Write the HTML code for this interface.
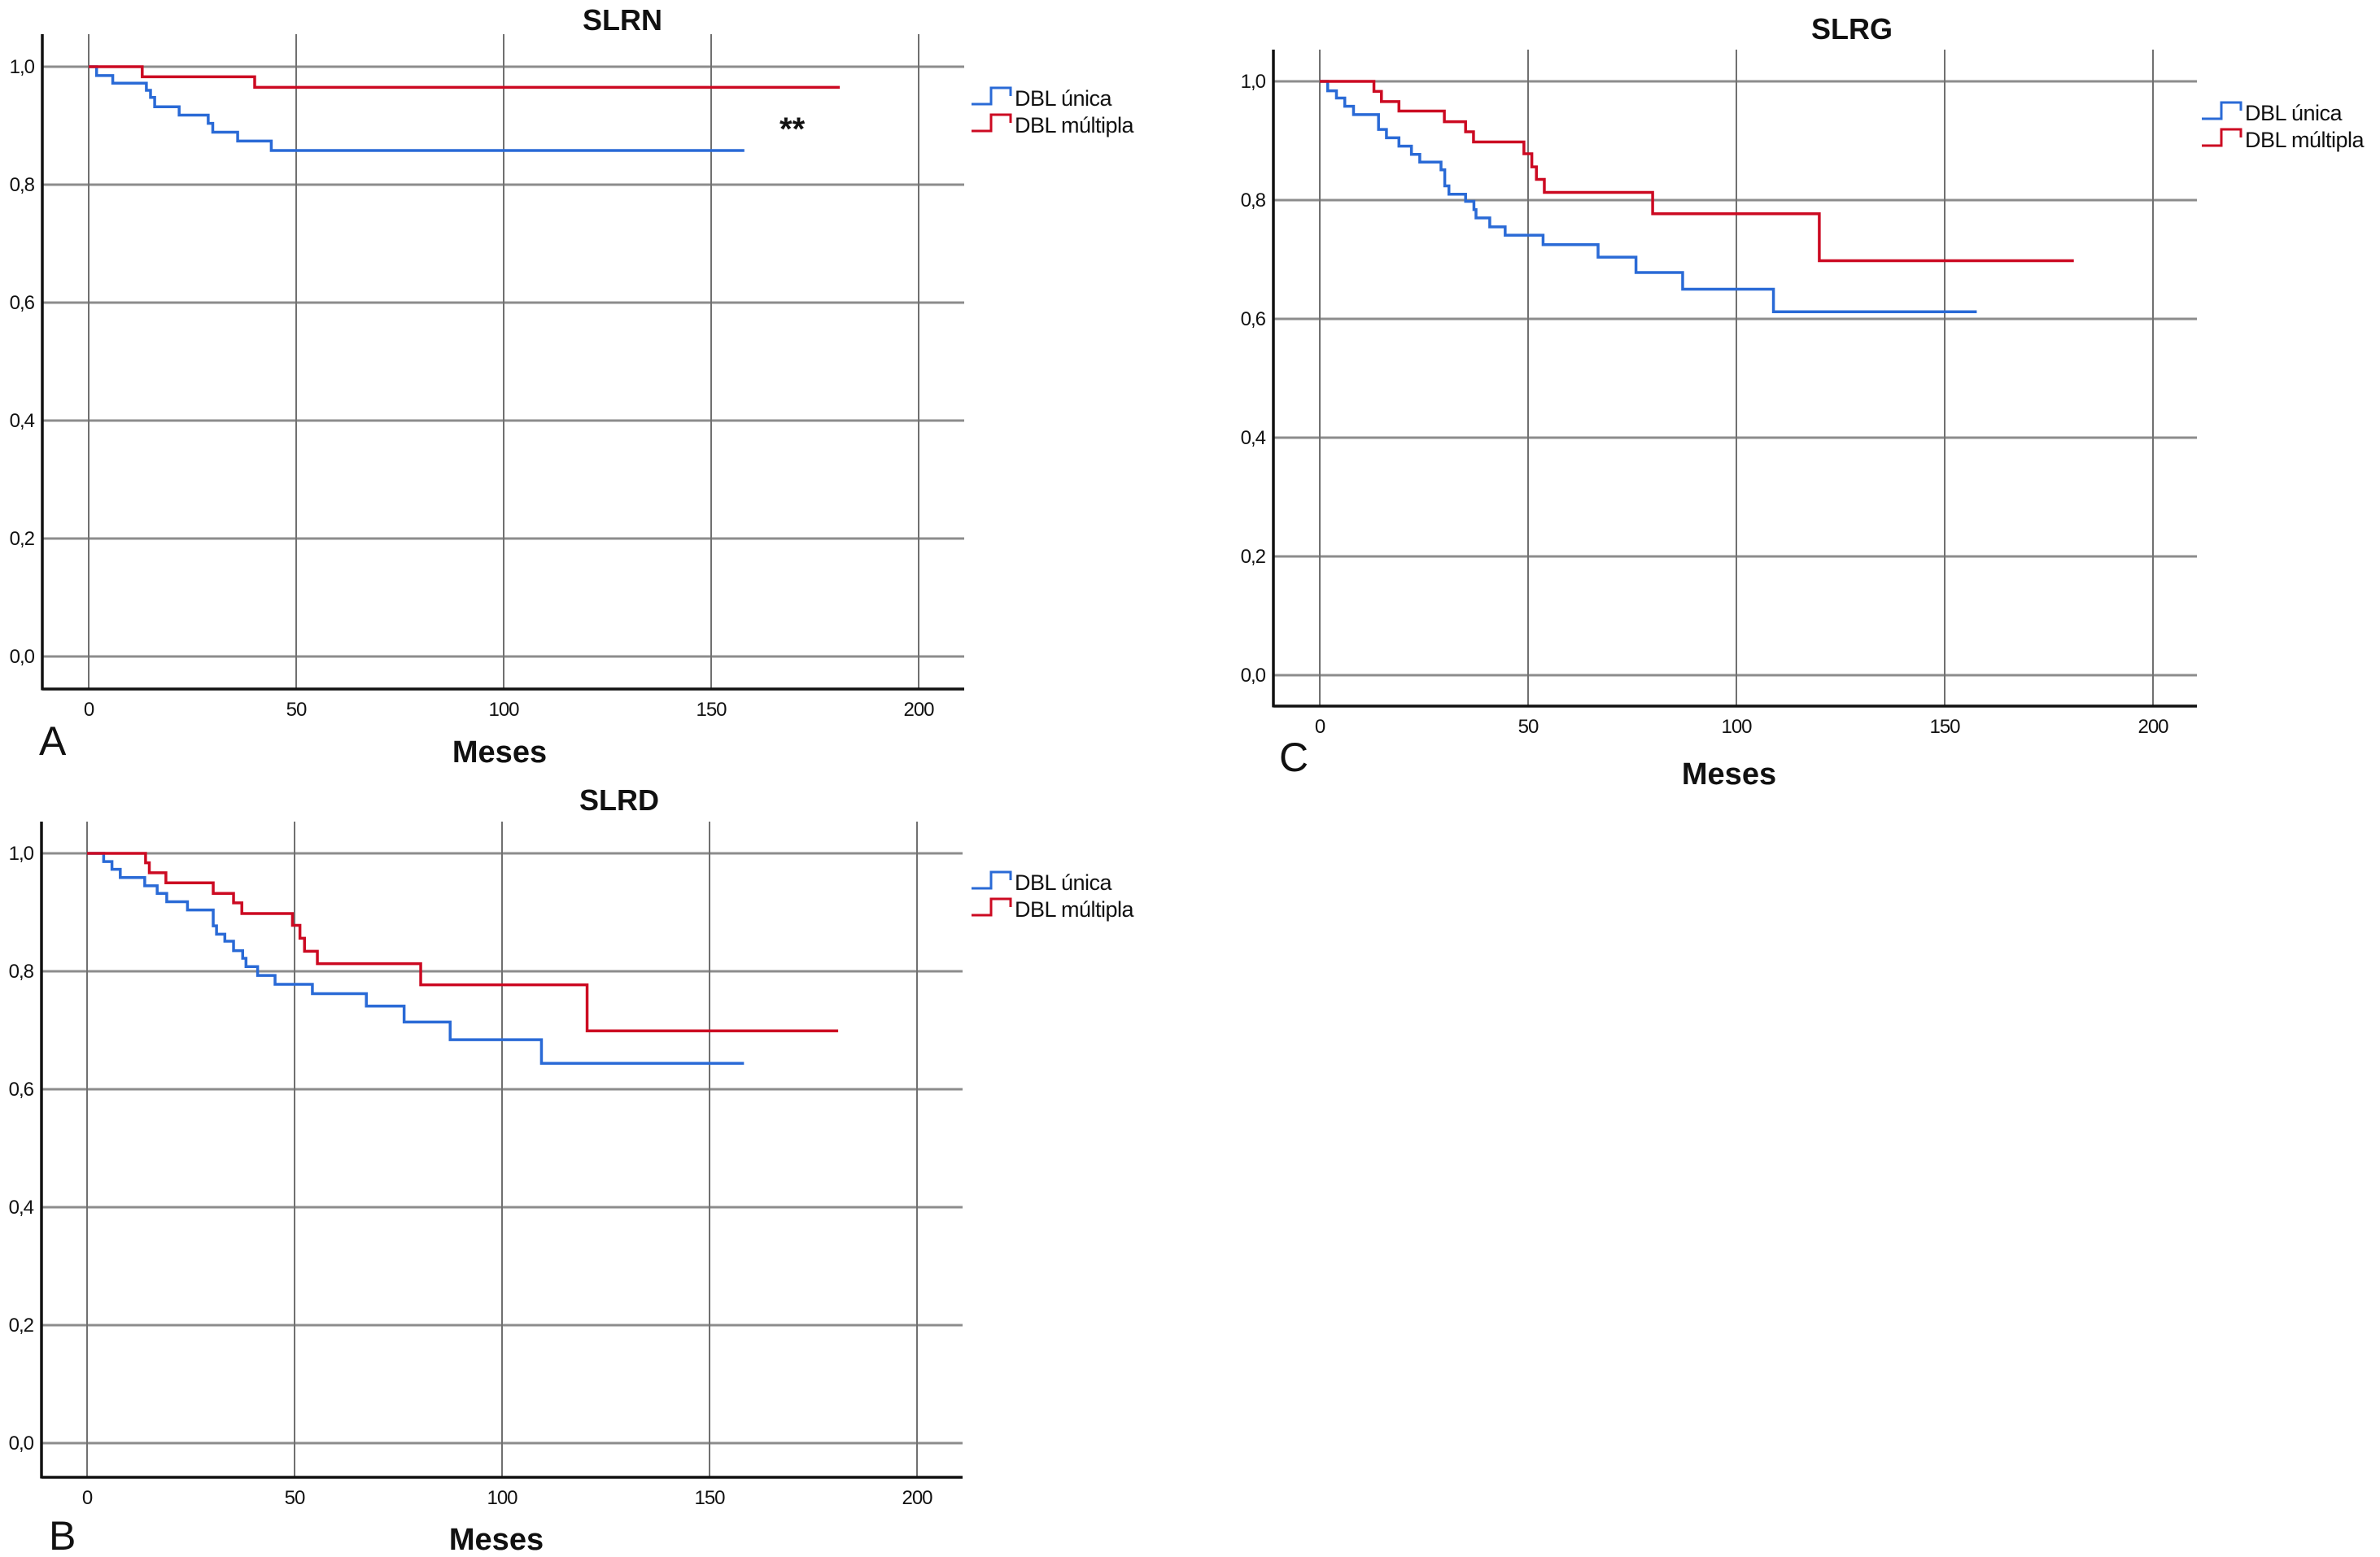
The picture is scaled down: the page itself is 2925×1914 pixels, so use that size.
<!DOCTYPE html>
<html><head><meta charset="utf-8"><style>
html,body{margin:0;padding:0;background:#fff;}
svg{display:block;}
text{font-family:"Liberation Sans",sans-serif;fill:#111;}
</style></head>
<body>
<svg id="fig" width="2925" height="1914" viewBox="0 0 2925 1914" xmlns="http://www.w3.org/2000/svg">
<rect width="2925" height="1914" fill="#fff"/>
</svg>
<script>
// ---- data ----
const xTicks = [0, 50, 100, 150, 200];
const yTicks = [0, 0.2, 0.4, 0.6, 0.8, 1.0];
const yTickLabels = ["0,0", "0,2", "0,4", "0,6", "0,8", "1,0"];
const legendLabels = ["DBL única", "DBL múltipla"];

// Panel A (SLRN)
const slrnUnicaTimes = [0, 1.9, 5.8, 13.9, 14.9, 15.9, 21.8, 28.8, 29.9, 35.9, 44, 158];
const slrnUnicaSurv  = [1, 0.985, 0.972, 0.960, 0.948, 0.932, 0.918, 0.904, 0.889, 0.874, 0.858, 0.858];
const slrnMultTimes  = [0, 12.9, 40, 181];
const slrnMultSurv   = [1, 0.983, 0.965, 0.965];

// Panel B (SLRD)
const slrdUnicaTimes = [0, 4, 6, 8, 13.9, 16.9, 19.2, 24.2, 30.4, 31.2, 33.2, 35.3, 37.5, 38.3, 41.1, 45.3, 54.3, 67.3, 76.4, 87.5, 109.5, 158.3];
const slrdUnicaSurv  = [1, 0.986, 0.973, 0.959, 0.945, 0.932, 0.918, 0.904, 0.877, 0.863, 0.851, 0.835, 0.822, 0.808, 0.793, 0.778, 0.762, 0.741, 0.714, 0.684, 0.644, 0.644];
const slrdMultTimes  = [0, 14.1, 15, 19, 30.4, 35.3, 37.3, 49.5, 51.3, 52.4, 55.5, 80.4, 120.5, 181];
const slrdMultSurv   = [1, 0.984, 0.967, 0.950, 0.932, 0.916, 0.898, 0.878, 0.856, 0.834, 0.813, 0.777, 0.699, 0.699];

// Panel C (SLRG)
const slrgUnicaTimes = [0, 1.9, 4, 6, 8.1, 14.1, 16, 19, 22, 24, 29.1, 30, 31, 35, 37, 37.5, 40.8, 44.5, 53.6, 66.8, 75.9, 87.1, 108.9, 157.7];
const slrgUnicaSurv  = [1, 0.984, 0.972, 0.958, 0.944, 0.919, 0.905, 0.891, 0.877, 0.864, 0.851, 0.824, 0.810, 0.798, 0.784, 0.770, 0.755, 0.741, 0.725, 0.704, 0.678, 0.650, 0.612, 0.612];
const slrgMultTimes  = [0, 13, 14.8, 19, 29.9, 35, 36.9, 49, 50.9, 52, 53.9, 79.9, 119.9, 181];
const slrgMultSurv   = [1, 0.983, 0.966, 0.950, 0.932, 0.915, 0.898, 0.878, 0.856, 0.835, 0.813, 0.777, 0.698, 0.698];

const NS = "http://www.w3.org/2000/svg";
const svg = document.getElementById('fig');
function mk(tag, attrs, parent) {
  const e = document.createElementNS(NS, tag);
  for (const k in attrs) e.setAttribute(k, attrs[k]);
  (parent || svg).appendChild(e);
  return e;
}

function drawPanel(p) {
  const g = mk('g', {});
  
  
  const X = t => p.x0 + p.sx * t;
  const Y = s => p.y0 - (p.y0 - p.y1) * s;
  // horizontal gridlines
  yTicks.forEach((v, i) => {
    const l = mk('line', {x1: p.axL, x2: p.axR, y1: Y(v), y2: Y(v), stroke: '#8c8c8c', 'stroke-width': 3}, g);
    
    
    const t = mk('text', {x: p.axL - 10, y: Y(v) + 8, 'font-size': 24, 'text-anchor': 'end', 'letter-spacing': '-1'}, g);
    t.textContent = yTickLabels[i];
    
    
  });
  // vertical gridlines
  xTicks.forEach(v => {
    const l = mk('line', {x1: X(v), x2: X(v), y1: p.top, y2: p.bottom, stroke: '#707070', 'stroke-width': 2}, g);
    
    
    const t = mk('text', {x: X(v), y: p.bottom + 33, 'font-size': 24, 'text-anchor': 'middle', 'letter-spacing': '-1'}, g);
    t.textContent = String(v);
    
    
  });
  // axes
  const ya = mk('line', {x1: p.axL, x2: p.axL, y1: p.top, y2: p.bottom + 1.5, stroke: '#111', 'stroke-width': 3.5}, g);
  
  
  const xa = mk('line', {x1: p.axL, x2: p.axR, y1: p.bottom, y2: p.bottom, stroke: '#111', 'stroke-width': 3.5}, g);
  
  
  // curves
  function step(times, surv, color, name) {
    let d = 'M' + X(times[0]) + ' ' + Y(surv[0]);
    for (let i = 1; i < times.length; i++) {
      d += ' H' + X(times[i]) + ' V' + Y(surv[i]);
    }
    const path = mk('path', {d: d, fill: 'none', stroke: color, 'stroke-width': 3.5}, g);
    
    
  }
  step(p.uT, p.uS, '#2a6ad6', 'curve-dbl-unica');
  step(p.mT, p.mS, '#cc0a22', 'curve-dbl-multipla');
  // title
  const ti = mk('text', {x: p.titleX, y: p.titleY, 'font-size': 36, 'font-weight': 'bold', 'text-anchor': 'middle'}, g);
  ti.textContent = p.title;
  
  
  // x axis title
  const xt = mk('text', {x: p.mesesX, y: p.mesesY, 'font-size': 38, 'font-weight': 'bold', 'text-anchor': 'middle'}, g);
  xt.textContent = 'Meses';
  
  
  // panel letter
  const pl = mk('text', {x: p.letterX, y: p.letterY, 'font-size': 50}, g);
  pl.textContent = p.letter;
  
  
  // legend
  const colors = ['#2a6ad6', '#cc0a22'];
  legendLabels.forEach((lab, i) => {
    const ly = p.legY + i * 33;
    const lx = p.legX;
    const sym = mk('path', {d: 'M' + lx + ' ' + (ly + 8) + ' H' + (lx + 24) + ' V' + (ly - 12) + ' H' + (lx + 48) + ' V' + (ly - 2), fill: 'none', stroke: colors[i], 'stroke-width': 3}, g);
    
    
    const t = mk('text', {x: lx + 53, y: ly + 10, 'font-size': 27, 'letter-spacing': '-0.5'}, g);
    t.textContent = lab;
    
    
  });
  if (p.note) {
    const n = mk('text', {x: p.noteX, y: p.noteY, 'font-size': 40, 'font-weight': 'bold'}, g);
    n.textContent = p.note;
    
    
  }
}

drawPanel({name: 'panel-a-slrn', title: 'SLRN', letter: 'A',
  axL: 52, axR: 1185, top: 42, bottom: 847, x0: 109, sx: 5.1, y1: 82, y0: 807,
  uT: slrnUnicaTimes, uS: slrnUnicaSurv, mT: slrnMultTimes, mS: slrnMultSurv,
  titleX: 765, titleY: 37, mesesX: 614, mesesY: 937, letterX: 48, letterY: 928,
  legX: 1194, legY: 120, note: '**', noteX: 958, noteY: 172});
drawPanel({name: 'panel-b-slrd', title: 'SLRD', letter: 'B',
  axL: 51, axR: 1183, top: 1010, bottom: 1816, x0: 107, sx: 5.1, y1: 1049, y0: 1774,
  uT: slrdUnicaTimes, uS: slrdUnicaSurv, mT: slrdMultTimes, mS: slrdMultSurv,
  titleX: 761, titleY: 996, mesesX: 610, mesesY: 1905, letterX: 60, letterY: 1905,
  legX: 1194, legY: 1084});
drawPanel({name: 'panel-c-slrg', title: 'SLRG', letter: 'C',
  axL: 1565, axR: 2700, top: 61, bottom: 868, x0: 1622, sx: 5.12, y1: 100, y0: 830,
  uT: slrgUnicaTimes, uS: slrgUnicaSurv, mT: slrgMultTimes, mS: slrgMultSurv,
  titleX: 2276, titleY: 48, mesesX: 2125, mesesY: 964, letterX: 1572, letterY: 948,
  legX: 2706, legY: 138});
</script>
</body></html>
